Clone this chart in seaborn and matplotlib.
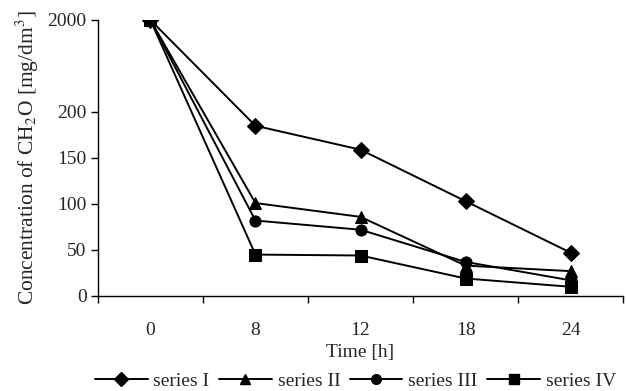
import numpy as np
import pandas as pd
import matplotlib
matplotlib.use("Agg")
import matplotlib.pyplot as plt
import seaborn as sns
from matplotlib.lines import Line2D

times = ["0", "8", "12", "18", "24"]
series_names = ["series I", "series II", "series III", "series IV"]
series_I = [2000, 185, 159, 103, 47]
series_II = [2000, 101, 86, 33, 27]
series_III = [2000, 82, 72, 37, 17]
series_IV = [2000, 45, 44, 19, 10]
y_ticks = [0, 50, 100, 150, 200, 2000]

markers = ["D", "^", "o", "s"]
msizes = [8, 9, 8, 8]

sns.set_theme(style="ticks")
plt.rcParams["font.family"] = ["Liberation Serif", "DejaVu Serif"]
plt.rcParams["mathtext.fontset"] = "stix"

rows = []
for name, vals in zip(series_names, [series_I, series_II, series_III, series_IV]):
    for i, v in enumerate(vals):
        rows.append({"pos": i, "value": v, "series": name})
df = pd.DataFrame(rows)

def fwd(y):
    y = np.asarray(y, dtype=float)
    return np.where(y <= 200, y, 200 + (y - 200) * 100.0 / 1800.0)

def inv(y):
    y = np.asarray(y, dtype=float)
    return np.where(y <= 200, y, 200 + (y - 200) * 1800.0 / 100.0)

fig = plt.figure(figsize=(6.27, 3.91), dpi=100)
ax = fig.add_axes([0.156, 0.243, 0.838, 0.706])
ax.set_yscale("function", functions=(fwd, inv))

for name, m, ms in zip(series_names, markers, msizes):
    sub = df[df["series"] == name]
    sns.lineplot(data=sub, x="pos", y="value", ax=ax, color="black",
                 marker=m, markersize=ms, markeredgecolor="black",
                 linewidth=1.4, legend=False)

ax.set_ylim(0, 2000)
ax.set_yticks(y_ticks)
ax.set_yticklabels([str(t) for t in y_ticks])
ax.set_xlim(-0.5, len(times) - 0.5)
ax.set_xticks(np.arange(len(times) + 1) - 0.5)
ax.set_xticklabels([""] * (len(times) + 1))
ax.set_xticks(np.arange(len(times)), minor=True)
ax.set_xticklabels(times, minor=True)
ax.tick_params(axis="x", which="major", length=5, width=1, direction="out", color="black")
ax.tick_params(axis="x", which="minor", length=0, pad=19, labelsize=14)
ax.tick_params(axis="y", length=5, width=1, direction="out", labelsize=14, color="black", pad=3)

for s in ["top", "right"]:
    ax.spines[s].set_visible(False)
for s in ["left", "bottom"]:
    ax.spines[s].set_color("black")
    ax.spines[s].set_linewidth(1.0)

ax.set_xlabel("Time [h]", fontsize=14)
ax.xaxis.set_label_coords(0.5, -0.175)
ax.set_ylabel("Concentration of CH$_2$O [mg/dm$^3$]", fontsize=15.5, labelpad=5)

handles = [Line2D([0], [0], color="black", marker=m, markersize=7, linewidth=1.4)
           for m in markers]
fig.legend(handles, series_names, loc="center", bbox_to_anchor=(0.567, 0.025),
           ncol=4, frameon=False, fontsize=14, handlelength=2.7,
           handletextpad=0.3, columnspacing=0.5)

fig.savefig("out.png", dpi=100)
